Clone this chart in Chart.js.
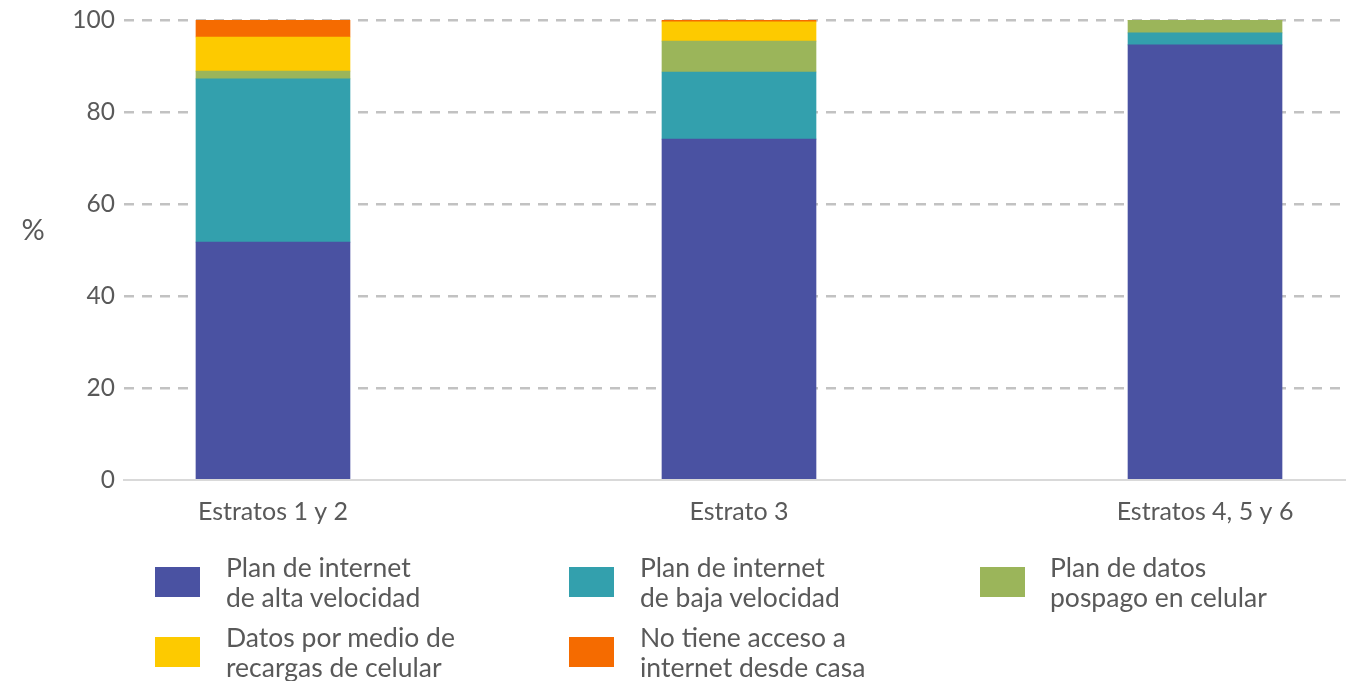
<!DOCTYPE html>
<html>
<head>
<meta charset="utf-8">
<script src="https://cdn.jsdelivr.net/npm/chart.js@4"></script>
<style>
  html, body { margin: 0; padding: 0; background: #fff; }
  #wrap { position: relative; width: 1350px; height: 681px; }
  #chart { position: absolute; left: 0; top: 0; }
  .leg { position: absolute; font-family: Lato, "Open Sans", sans-serif; font-size: 26.5px; line-height: 30px; color: #595959; }
  .leg .box { position: absolute; width: 45px; height: 30px; }
  .leg .txt { position: absolute; white-space: nowrap; }
</style>
</head>
<body>
<div id="wrap">
  <canvas id="chart" width="1350" height="681"></canvas>
  <div id="legend"></div>
</div>
<script>
const categories = ["Estratos 1 y 2", "Estrato 3", "Estratos 4, 5 y 6"];
const altaVelocidad = [51.7, 74.1, 94.6];
const bajaVelocidad = [35.5, 14.6, 2.6];
const pospago = [1.7, 6.7, 2.8];
const recargas = [7.4, 4.2, 0];
const sinAcceso = [3.7, 0.4, 0];
const yTicks = [0, 20, 40, 60, 80, 100];

const series = [
  { label: ["Plan de internet", "de alta velocidad"], data: altaVelocidad, color: "#4a52a2" },
  { label: ["Plan de internet", "de baja velocidad"], data: bajaVelocidad, color: "#33a0ad" },
  { label: ["Plan de datos", "pospago en celular"], data: pospago, color: "#9bb55a" },
  { label: ["Datos por medio de", "recargas de celular"], data: recargas, color: "#fdca00" },
  { label: ["No tiene acceso a", "internet desde casa"], data: sinAcceso, color: "#f56b00" }
];

const textColor = "#595959";
const font = "Lato, 'Open Sans', sans-serif";

// "%" label left of the axis
const percentLabel = {
  id: "percentLabel",
  afterDraw(chart) {
    const ctx = chart.ctx;
    ctx.save();
    ctx.font = "29px " + font;
    ctx.fillStyle = textColor;
    ctx.textAlign = "center";
    ctx.textBaseline = "middle";
    ctx.fillText("%", 33, 231);
    ctx.restore();
  }
};

new Chart(document.getElementById("chart"), {
  type: "bar",
  data: {
    datasets: series.map(s => ({
      label: s.label.join(" "),
      data: s.data.map((v, i) => ({ x: i, y: v })),
      backgroundColor: s.color,
      barThickness: 154,
      borderWidth: 0
    }))
  },
  options: {
    responsive: false,
    animation: false,
    layout: { padding: { top: 0, right: 5, bottom: 137, left: 0 } },
    plugins: { legend: { display: false }, tooltip: { enabled: false } },
    scales: {
      x: {
        type: "linear",
        stacked: true,
        offset: false,
        min: -0.3197,
        max: 2.3004,
        afterBuildTicks: scale => { scale.ticks = [0, 1, 2].map(v => ({ value: v })); },
        ticks: {
          callback: v => categories[v],
          color: textColor,
          font: { family: font, size: 25 },
          padding: 17,
          maxRotation: 0,
          autoSkip: false
        },
        grid: { display: false, drawTicks: false },
        border: { display: true, color: "#d9d9d9", width: 2 }
      },
      y: {
        stacked: true,
        min: 0,
        max: 100,
        afterBuildTicks: scale => { scale.ticks = yTicks.map(v => ({ value: v })); },
        afterFit: scale => { scale.width = 124; },
        ticks: {
          color: textColor,
          font: { family: font, size: 24.5, lineHeight: 0.9 },
          padding: 9
        },
        grid: {
          drawTicks: false,
          color: ctx => ctx.tick && ctx.tick.value === 0 ? "rgba(0,0,0,0)" : "#c2c2c2",
          lineWidth: 2.5
        },
        border: { display: false, dash: [10, 8] }
      }
    }
  },
  plugins: [percentLabel]
});

// HTML legend, 3 columns
const legendPos = [
  { box: [155, 567], txt: [226, 552] },
  { box: [569, 567], txt: [640, 552] },
  { box: [980, 567], txt: [1050, 552] },
  { box: [155, 637], txt: [226, 622] },
  { box: [569, 637], txt: [640, 622] }
];
const legendEl = document.getElementById("legend");
series.forEach((s, i) => {
  const p = legendPos[i];
  const item = document.createElement("div");
  item.className = "leg";
  item.innerHTML = `
    <div class="box" style="left:${p.box[0]}px;top:${p.box[1]}px;background:${s.color}"></div>
    <div class="txt" style="left:${p.txt[0]}px;top:${p.txt[1]}px">${s.label[0]}<br>${s.label[1]}</div>
  `;
  legendEl.appendChild(item);
});
</script>
</body>
</html>
